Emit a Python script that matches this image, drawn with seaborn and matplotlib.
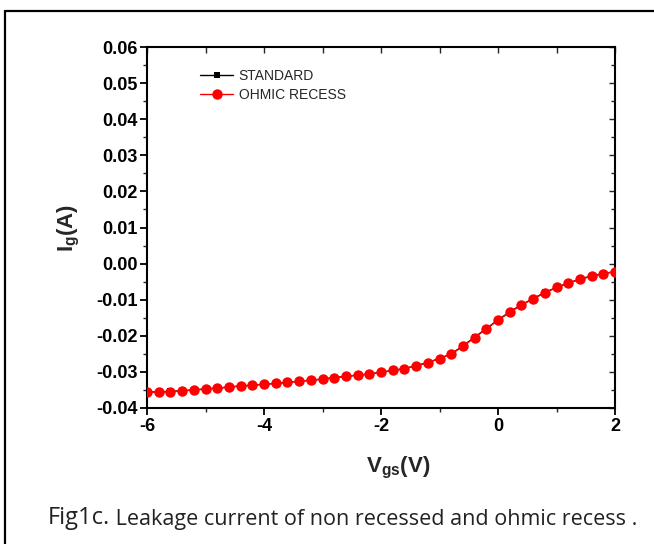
import numpy as np
import pandas as pd
import matplotlib
matplotlib.use("Agg")
import matplotlib.pyplot as plt
from matplotlib.lines import Line2D
from matplotlib.ticker import MultipleLocator, FormatStrFormatter
import seaborn as sns

# Gate voltage sweep (V)
vgs = [-6.0, -5.8, -5.6, -5.4, -5.2, -5.0, -4.8, -4.6, -4.4, -4.2,
       -4.0, -3.8, -3.6, -3.4, -3.2, -3.0, -2.8, -2.6, -2.4, -2.2,
       -2.0, -1.8, -1.6, -1.4, -1.2, -1.0, -0.8, -0.6, -0.4, -0.2,
       0.0, 0.2, 0.4, 0.6, 0.8, 1.0, 1.2, 1.4, 1.6, 1.8, 2.0]

# Gate leakage current (A), non-recessed device
ig_standard = [-0.0356, -0.0355, -0.0354, -0.0352, -0.0350, -0.0347, -0.0345, -0.0342,
               -0.0339, -0.0337, -0.0334, -0.0332, -0.0329, -0.0326, -0.0323, -0.0320,
               -0.0316, -0.0312, -0.0309, -0.0306, -0.0301, -0.0296, -0.0291, -0.0283,
               -0.0274, -0.0263, -0.0250, -0.0228, -0.0204, -0.0180, -0.0156, -0.0134,
               -0.0114, -0.0097, -0.0080, -0.0066, -0.0054, -0.0043, -0.0034, -0.0028,
               -0.0022]

# Gate leakage current (A), ohmic-recessed device
ig_recess = [-0.0357, -0.0356, -0.0355, -0.0353, -0.0350, -0.0348, -0.0345, -0.0342,
             -0.0339, -0.0337, -0.0334, -0.0332, -0.0329, -0.0326, -0.0323, -0.0320,
             -0.0316, -0.0312, -0.0309, -0.0306, -0.0301, -0.0296, -0.0291, -0.0283,
             -0.0274, -0.0263, -0.0251, -0.0229, -0.0205, -0.0181, -0.0157, -0.0135,
             -0.0115, -0.0098, -0.0081, -0.0066, -0.0054, -0.0044, -0.0035, -0.0028,
             -0.0022]

series_names = ["STANDARD", "OHMIC RECESS"]

sns.set_theme(style="ticks")
plt.rcParams["font.family"] = ["Liberation Sans", "DejaVu Sans"]
plt.rcParams["axes.unicode_minus"] = False
plt.rcParams["mathtext.fontset"] = "custom"
plt.rcParams["mathtext.rm"] = "Liberation Sans:bold"
plt.rcParams["mathtext.bf"] = "Liberation Sans:bold"
plt.rcParams["mathtext.it"] = "Liberation Sans:bold"

df_std = pd.DataFrame({"Vgs": vgs, "Ig": ig_standard})
df_rec = pd.DataFrame({"Vgs": vgs, "Ig": ig_recess})

fig = plt.figure(figsize=(6.54, 5.44), dpi=100)
ax = fig.add_axes([147 / 654, 1 - 408 / 544, 468 / 654, 361 / 544])

sns.lineplot(data=df_std, x="Vgs", y="Ig", ax=ax, color="black", lw=1.0,
             marker="s", markersize=5, markeredgewidth=0, label=series_names[0],
             zorder=2)
sns.lineplot(data=df_rec, x="Vgs", y="Ig", ax=ax, color="#ff0000", lw=1.0,
             marker="o", markersize=7.5, markeredgewidth=0, label=series_names[1],
             zorder=3)

ax.set_xlim(-6, 2)
ax.set_ylim(-0.04, 0.06)
ax.xaxis.set_major_locator(MultipleLocator(2))
ax.xaxis.set_minor_locator(MultipleLocator(1))
ax.yaxis.set_major_locator(MultipleLocator(0.01))
ax.yaxis.set_minor_locator(MultipleLocator(0.005))
ax.yaxis.set_major_formatter(FormatStrFormatter("%.2f"))
ax.xaxis.set_major_formatter(FormatStrFormatter("%d"))

for side in ["left", "bottom", "top", "right"]:
    ax.spines[side].set_linewidth(1.5)
    ax.spines[side].set_color("black")

ax.tick_params(axis="both", which="major", direction="out", length=5, width=1.3,
               labelsize=13, colors="black", pad=2)
ax.tick_params(axis="both", which="minor", direction="out", length=3, width=1.0)
for lab in ax.get_xticklabels() + ax.get_yticklabels():
    lab.set_fontweight("bold")

# Mirrored inward ticks on the top and right edges
axt = ax.secondary_xaxis("top")
axt.xaxis.set_major_locator(MultipleLocator(1))
axt.tick_params(axis="x", direction="in", length=4, width=1.0, labeltop=False)
axr = ax.secondary_yaxis("right")
axr.yaxis.set_major_locator(MultipleLocator(0.01))
axr.yaxis.set_minor_locator(MultipleLocator(0.005))
axr.tick_params(axis="y", which="major", direction="in", length=4, width=1.0, labelright=False)
axr.tick_params(axis="y", which="minor", direction="in", length=3, width=1.0)

ax.set_xlabel(r"$\mathbf{V_{gs}}$(V)", fontsize=16, fontweight="bold")
ax.set_ylabel(r"$\mathbf{I_g}$(A)", fontsize=16, fontweight="bold")
ax.xaxis.set_label_coords(0.536, -0.13)
ax.yaxis.set_label_coords(-0.138, 0.5)

leg = ax.legend(loc="upper left", bbox_to_anchor=(0.113, 0.94), frameon=False,
                fontsize=10, handlelength=2.4, handletextpad=0.4,
                labelspacing=0.35, borderpad=0, borderaxespad=0)

# Outer frame around the figure panel
fig.add_artist(Line2D([5 / 654, 5 / 654], [0, 1 - 11 / 544], transform=fig.transFigure,
                      color="black", lw=1.6))
fig.add_artist(Line2D([5 / 654, 1], [1 - 11 / 544, 1 - 11 / 544], transform=fig.transFigure,
                      color="black", lw=1.6))

cap_font = ["Open Sans", "DejaVu Sans"]
t1 = fig.text(48 / 654, 1 - 524 / 544, "Fig1c.", fontsize=17, family=cap_font,
              color="#222222", va="baseline", ha="left")
ax.annotate(" Leakage current of non recessed and ohmic recess .", xy=(1, 0),
            xycoords=t1, fontsize=15.5, family=cap_font, color="#222222",
            va="bottom", ha="left", annotation_clip=False)

fig.savefig("out.png", dpi=100)
